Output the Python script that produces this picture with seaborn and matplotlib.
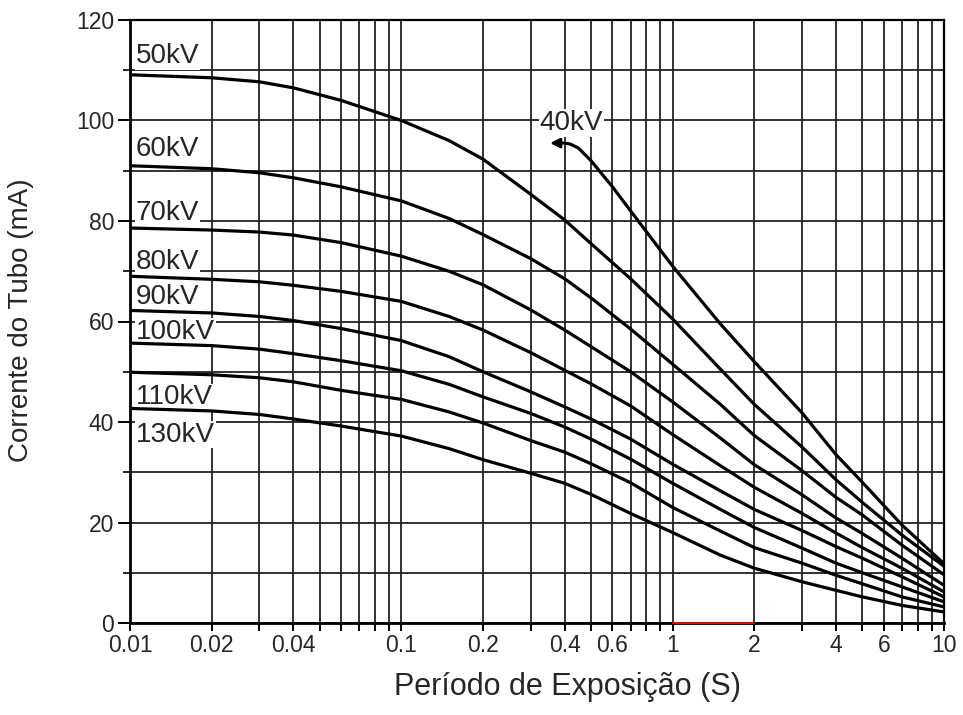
import numpy as np
import pandas as pd
import matplotlib
matplotlib.use("Agg")
import matplotlib.pyplot as plt
from matplotlib.ticker import MultipleLocator, LogLocator, NullFormatter
import seaborn as sns

# exposure time (s) where each curve was read
exposure = [0.01, 0.02, 0.03, 0.04, 0.06, 0.1, 0.15, 0.2, 0.3, 0.4, 0.5, 0.7,
            1, 1.5, 2, 3, 4, 5, 7, 10]

kv_50 = [109.1, 108.5, 107.7, 106.5, 104.0, 100.0, 96.0, 92.3, 85.3, 80.2, 75.5, 68.5,
         60.5, 50.5, 43.5, 35.0, 28.5, 24.0, 17.5, 11.3]
kv_60 = [91.0, 90.4, 89.6, 88.6, 86.8, 84.0, 80.5, 77.3, 72.5, 68.5, 64.7, 58.5,
         51.5, 43.5, 37.3, 30.3, 25.0, 21.5, 15.5, 9.6]
kv_70 = [78.6, 78.2, 77.8, 77.2, 75.7, 73.0, 70.0, 67.3, 62.3, 58.3, 55.0, 50.0,
         44.0, 36.8, 31.5, 25.5, 20.9, 17.8, 12.9, 7.5]
kv_80 = [69.0, 68.4, 67.9, 67.2, 66.0, 64.0, 61.0, 58.3, 53.8, 50.3, 47.6, 43.2,
         37.5, 31.3, 27.0, 21.8, 17.9, 15.0, 10.9, 6.2]
kv_90 = [62.2, 61.7, 61.0, 60.2, 58.6, 56.2, 53.0, 50.0, 46.0, 43.0, 40.6, 36.6,
         31.6, 26.3, 22.6, 18.4, 15.2, 12.9, 9.2, 5.2]
kv_100 = [55.7, 55.2, 54.5, 53.6, 52.2, 50.2, 47.5, 45.0, 41.7, 39.0, 36.6, 32.6,
          27.8, 22.6, 19.0, 14.9, 11.9, 10.0, 7.2, 4.2]
kv_110 = [49.9, 49.4, 48.8, 48.0, 46.3, 44.5, 42.0, 39.8, 36.3, 34.0, 31.7, 27.9,
          23.0, 18.3, 15.0, 11.9, 9.5, 7.8, 5.2, 3.2]
kv_130 = [42.7, 42.2, 41.5, 40.6, 39.2, 37.2, 34.7, 32.5, 29.8, 27.8, 25.6, 21.8,
          18.0, 13.5, 10.9, 8.2, 6.5, 5.2, 3.5, 2.2]

# 40kV starts at 0.4 s
exposure_40 = [0.4, 0.42, 0.45, 0.5, 0.6, 0.7, 1, 1.5, 2, 3, 4, 5, 7, 10]
kv_40 = [95.5, 95.3, 94.5, 92.0, 86.8, 82.0, 71.0, 59.5, 52.0, 41.8, 33.5, 28.0, 19.5, 11.8]
arrow_tip = (0.345, 95.5)

curve_names = ["50kV", "60kV", "70kV", "80kV", "90kV", "100kV", "110kV", "130kV"]
curve_values = [kv_50, kv_60, kv_70, kv_80, kv_90, kv_100, kv_110, kv_130]
# label anchors (left x, baseline y)
label_x = 0.0105
label_y = [111.5, 92.9, 80.1, 70.5, 63.5, 56.5, 43.5, 36.1]
label_40 = (0.324, 98.1)

xtick_vals = [0.01, 0.02, 0.04, 0.1, 0.2, 0.4, 0.6, 1, 2, 4, 6, 10]
xtick_labels = ["0.01", "0.02", "0.04", "0.1", "0.2", "0.4", "0.6", "1", "2", "4", "6", "10"]
red_span = [1, 2]

sns.set_style("ticks")
plt.rcParams["font.family"] = ["Liberation Sans", "DejaVu Sans"]

fig = plt.figure(figsize=(9.63, 7.15), dpi=100)
ax = fig.add_axes([130 / 963, 1 - 623 / 715, 814 / 963, 603 / 715])

rows = []
for name, vals in zip(curve_names, curve_values):
    for x, y in zip(exposure, vals):
        rows.append((name, x, y))
for x, y in zip(exposure_40, kv_40):
    rows.append(("40kV", x, y))
df = pd.DataFrame(rows, columns=["kv", "t", "ma"])

sns.lineplot(data=df, x="t", y="ma", units="kv", estimator=None, color="black",
             lw=2.3, ax=ax, zorder=3, sort=False, solid_joinstyle="round")

ax.annotate("", xy=arrow_tip, xytext=(exposure_40[0] * 1.02, kv_40[0]),
            arrowprops=dict(arrowstyle="-|>", color="black", lw=2, mutation_scale=14),
            zorder=3)

ax.plot(red_span, [0, 0], color="#d01010", lw=1.5, zorder=4, clip_on=False)

ax.set_xscale("log")
ax.set_xlim(0.01, 10)
ax.set_ylim(0, 120)
ax.set_xticks(xtick_vals, labels=xtick_labels)
ax.xaxis.set_minor_locator(LogLocator(base=10, subs=np.arange(2, 10)))
ax.xaxis.set_minor_formatter(NullFormatter())
ax.yaxis.set_major_locator(MultipleLocator(20))
ax.yaxis.set_minor_locator(MultipleLocator(10))

ax.grid(which="both", color="#222222", lw=1.3)
ax.set_axisbelow(True)
ax.tick_params(axis="y", which="major", direction="out", length=8.5, width=1.4,
               labelsize=16.5, pad=3, color="black")
ax.tick_params(axis="y", which="minor", direction="out", length=5, width=1.4)
ax.tick_params(axis="x", which="both", direction="out", length=6, width=1.4,
               labelsize=16.5, pad=2, color="black")
for side in ["left", "bottom"]:
    ax.spines[side].set_linewidth(2.0)
for side in ["top", "right"]:
    ax.spines[side].set_linewidth(1.6)
    ax.spines[side].set_visible(True)
for sp in ax.spines.values():
    sp.set_color("black")

ax.set_xlabel("")
ax.set_ylabel("")

for name, y in zip(curve_names, label_y):
    ax.text(label_x, y, name, fontsize=20, ha="left", va="baseline", zorder=1.5,
            bbox=dict(facecolor="white", edgecolor="none", pad=0.5))
ax.text(label_40[0], label_40[1], "40kV", fontsize=20, ha="left", va="baseline",
        zorder=1.5, bbox=dict(facecolor="white", edgecolor="none", pad=0.5))

fig.text(567 / 963, 1 - 687 / 715, "Período de Exposição (S)", fontsize=22,
         ha="center", va="center")
fig.text(21 / 963, 1 - 320 / 715, "Corrente do Tubo (mA)", fontsize=20,
         ha="center", va="center", rotation=90)

fig.savefig("out.png", dpi=100)
